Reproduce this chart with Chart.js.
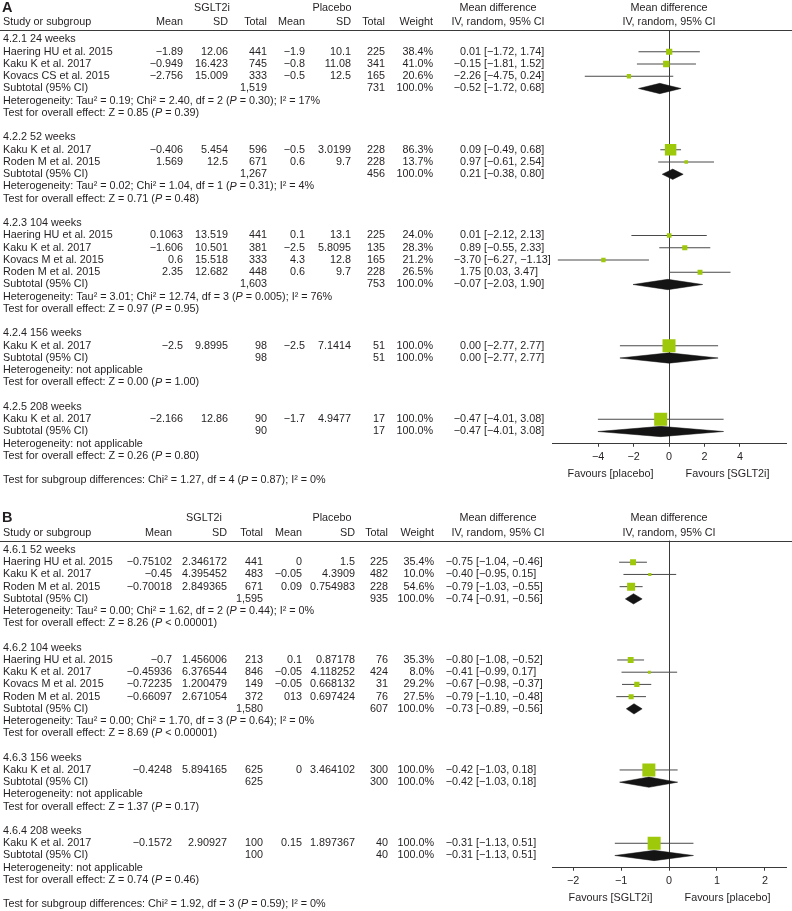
<!DOCTYPE html>
<html>
<head>
<meta charset="utf-8">
<script src="https://cdn.jsdelivr.net/npm/chart.js@4.4.1/dist/chart.umd.min.js"></script>
<style>
  body { margin: 0; background: #fff; }
  canvas { display: block; }
</style>
</head>
<body>
<canvas id="forestA" width="792" height="495"></canvas>
<canvas id="forestB" width="792" height="416"></canvas>
<script>
// ---------- panel A ----------
const groupsA = ['4.2.1 24 weeks', '4.2.2 52 weeks', '4.2.3 104 weeks', '4.2.4 156 weeks', '4.2.5 208 weeks'];
const groupSizeA = [3, 2, 4, 1, 1];
const studyA = ['Haering HU et al. 2015', 'Kaku K et al. 2017', 'Kovacs CS et al. 2015',
  'Kaku K et al. 2017', 'Roden M et al. 2015',
  'Haering HU et al. 2015', 'Kaku K et al. 2017', 'Kovacs M et al. 2015', 'Roden M et al. 2015',
  'Kaku K et al. 2017', 'Kaku K et al. 2017'];
const sgltMeanA = ['-1.89', '-0.949', '-2.756', '-0.406', '1.569', '0.1063', '-1.606', '0.6', '2.35', '-2.5', '-2.166'];
const sgltSdA = ['12.06', '16.423', '15.009', '5.454', '12.5', '13.519', '10.501', '15.518', '12.682', '9.8995', '12.86'];
const sgltTotalA = [441, 745, 333, 596, 671, 441, 381, 333, 448, 98, 90];
const plcMeanA = ['-1.9', '-0.8', '-0.5', '-0.5', '0.6', '0.1', '-2.5', '4.3', '0.6', '-2.5', '-1.7'];
const plcSdA = ['10.1', '11.08', '12.5', '3.0199', '9.7', '13.1', '5.8095', '12.8', '9.7', '7.1414', '4.9477'];
const plcTotalA = [225, 341, 165, 228, 228, 225, 135, 165, 228, 51, 17];
const weightA = [38.4, 41.0, 20.6, 86.3, 13.7, 24.0, 28.3, 21.2, 26.5, 100, 100];
const mdA = [0.01, -0.15, -2.26, 0.09, 0.97, 0.01, 0.89, -3.70, 1.75, 0.00, -0.47];
const loA = [-1.72, -1.81, -4.75, -0.49, -0.61, -2.12, -0.55, -6.27, 0.03, -2.77, -4.01];
const hiA = [1.74, 1.52, 0.24, 0.68, 2.54, 2.13, 2.33, -1.13, 3.47, 2.77, 3.08];
const subSgltA = ['1,519', '1,267', '1,603', '98', '90'];
const subPlcA = ['731', '456', '753', '51', '17'];
const subMdA = [-0.52, 0.21, -0.07, 0.00, -0.47];
const subLoA = [-1.72, -0.38, -2.03, -2.77, -4.01];
const subHiA = [0.68, 0.80, 1.90, 2.77, 3.08];
const hetA = [
  'Heterogeneity: Tau\u00b2 = 0.19; Chi\u00b2 = 2.40, df = 2 (|P| = 0.30); I\u00b2 = 17%',
  'Heterogeneity: Tau\u00b2 = 0.02; Chi\u00b2 = 1.04, df = 1 (|P| = 0.31); I\u00b2 = 4%',
  'Heterogeneity: Tau\u00b2 = 3.01; Chi\u00b2 = 12.74, df = 3 (|P| = 0.005); I\u00b2 = 76%',
  'Heterogeneity: not applicable',
  'Heterogeneity: not applicable'];
const effectA = [
  'Test for overall effect: Z = 0.85 (|P| = 0.39)',
  'Test for overall effect: Z = 0.71 (|P| = 0.48)',
  'Test for overall effect: Z = 0.97 (|P| = 0.95)',
  'Test for overall effect: Z = 0.00 (|P| = 1.00)',
  'Test for overall effect: Z = 0.26 (|P| = 0.80)'];
const subgroupTestA = 'Test for subgroup differences: Chi\u00b2 = 1.27, df = 4 (|P| = 0.87); I\u00b2 = 0%';
const ticksA = [-4, -2, 0, 2, 4];
const favoursA = ['Favours [placebo]', 'Favours [SGLT2i]'];

// ---------- panel B ----------
const groupsB = ['4.6.1 52 weeks', '4.6.2 104 weeks', '4.6.3 156 weeks', '4.6.4 208 weeks'];
const groupSizeB = [3, 4, 1, 1];
const studyB = ['Haering HU et al. 2015', 'Kaku K et al. 2017', 'Roden M et al. 2015',
  'Haering HU et al. 2015', 'Kaku K et al. 2017', 'Kovacs M et al. 2015', 'Roden M et al. 2015',
  'Kaku K et al. 2017', 'Kaku K et al. 2017'];
const sgltMeanB = ['-0.75102', '-0.45', '-0.70018', '-0.7', '-0.45936', '-0.72235', '-0.66097', '-0.4248', '-0.1572'];
const sgltSdB = ['2.346172', '4.395452', '2.849365', '1.456006', '6.376544', '1.200479', '2.671054', '5.894165', '2.90927'];
const sgltTotalB = [441, 483, 671, 213, 846, 149, 372, 625, 100];
const plcMeanB = ['0', '-0.05', '0.09', '0.1', '-0.05', '-0.05', '013', '0', '0.15'];
const plcSdB = ['1.5', '4.3909', '0.754983', '0.87178', '4.118252', '0.668132', '0.697424', '3.464102', '1.897367'];
const plcTotalB = [225, 482, 228, 76, 424, 31, 76, 300, 40];
const weightB = [35.4, 10.0, 54.6, 35.3, 8.0, 29.2, 27.5, 100, 100];
const mdB = [-0.75, -0.40, -0.79, -0.80, -0.41, -0.67, -0.79, -0.42, -0.31];
const loB = [-1.04, -0.95, -1.03, -1.08, -0.99, -0.98, -1.10, -1.03, -1.13];
const hiB = [-0.46, 0.15, -0.55, -0.52, 0.17, -0.37, -0.48, 0.18, 0.51];
const subSgltB = ['1,595', '1,580', '625', '100'];
const subPlcB = ['935', '607', '300', '40'];
const subMdB = [-0.74, -0.73, -0.42, -0.31];
const subLoB = [-0.91, -0.89, -1.03, -1.13];
const subHiB = [-0.56, -0.56, 0.18, 0.51];
const hetB = [
  'Heterogeneity: Tau\u00b2 = 0.00; Chi\u00b2 = 1.62, df = 2 (|P| = 0.44); I\u00b2 = 0%',
  'Heterogeneity: Tau\u00b2 = 0.00; Chi\u00b2 = 1.70, df = 3 (|P| = 0.64); I\u00b2 = 0%',
  'Heterogeneity: not applicable',
  'Heterogeneity: not applicable'];
const effectB = [
  'Test for overall effect: Z = 8.26 (|P| < 0.00001)',
  'Test for overall effect: Z = 8.69 (|P| < 0.00001)',
  'Test for overall effect: Z = 1.37 (|P| = 0.17)',
  'Test for overall effect: Z = 0.74 (|P| = 0.46)'];
const subgroupTestB = 'Test for subgroup differences: Chi\u00b2 = 1.92, df = 3 (|P| = 0.59); I\u00b2 = 0%';
const ticksB = [-2, -1, 0, 1, 2];
const favoursB = ['Favours [SGLT2i]', 'Favours [placebo]'];

// ---------- styling ----------
const FONT = '"Liberation Sans", Arial, sans-serif';
const FS = 10.8;
const TEXT = '#231f20';
const GREEN = 'rgb(158,200,10)';
const LINE = '#3a3a3a';
Chart.defaults.font.family = FONT;
Chart.defaults.font.size = FS;
Chart.defaults.color = TEXT;

const minus = s => String(s).replace(/-/g, '\u2212');

function layoutRows(groupSize) {
  let r = 0;
  const rows = { group: [], study: [], sub: [], het: [], eff: [] };
  groupSize.forEach(n => {
    rows.group.push(r++);
    for (let i = 0; i < n; i++) rows.study.push(r++);
    rows.sub.push(r++);
    rows.het.push(r++);
    rows.eff.push(r++);
    r++;
  });
  rows.subgroup = r;
  return rows;
}

// text with |...| parts in italic
function drawRich(ctx, text, x, y) {
  const parts = text.split('|');
  parts.forEach((p, i) => {
    ctx.font = (i % 2 ? 'italic ' : '') + FS + 'px ' + FONT;
    ctx.fillText(p, x, y);
    x += ctx.measureText(p).width;
  });
}

function forest(id, P) {
  const rows = layoutRows(P.groupSize);
  const yTop = -0.77;
  const yBot = rows.sub[rows.sub.length - 1] + 1;
  const padTop = P.row0 + yTop * P.rowH;
  const areaBottom = P.row0 + yBot * P.rowH;
  const xAxisH = P.height - areaBottom;

  const datasets = [];
  datasets.push({
    data: P.md.map((m, i) => ({ x: m, y: rows.study[i] })),
    showLine: false,
    pointStyle: 'rect',
    pointRadius: P.weight.map(w => (2 + 11 * w / 100) / Math.SQRT2),
    pointBackgroundColor: GREEN,
    pointBorderWidth: 0,
    order: 0
  });
  P.lo.forEach((lo, i) => {
    datasets.push({
      data: [{ x: lo, y: rows.study[i] }, { x: P.hi[i], y: rows.study[i] }],
      borderColor: '#4a4a4a', borderWidth: 1, pointRadius: 0, order: 2
    });
  });
  P.subMd.forEach((m, i) => {
    const r = rows.sub[i];
    datasets.push({
      data: [{ x: P.subLo[i], y: r }, { x: m, y: r - 0.42 }, { x: P.subHi[i], y: r },
             { x: m, y: r + 0.42 }, { x: P.subLo[i], y: r }],
      fill: 'shape', backgroundColor: '#141414', borderColor: '#141414',
      borderWidth: 0.5, pointRadius: 0, tension: 0, order: 1
    });
  });

  const tablePlugin = {
    id: 'table_' + id,
    afterDraw(chart) {
      const ctx = chart.ctx;
      const ys = chart.scales.y;
      const xs = chart.scales.x;
      const area = chart.chartArea;
      const Y = r => ys.getPixelForValue(r);
      const C = P.cols;
      ctx.save();
      ctx.fillStyle = TEXT;
      ctx.textBaseline = 'middle';

      // header line
      const hy = Math.round(area.top) + 0.5;
      ctx.strokeStyle = LINE;
      ctx.lineWidth = 1;
      ctx.beginPath();
      ctx.moveTo(0, hy);
      ctx.lineTo(792, hy);
      ctx.stroke();

      // panel letter + headers
      const h1 = Y(-2.58), h2 = Y(-1.42);
      ctx.font = 'bold 14.5px ' + FONT;
      ctx.textAlign = 'left';
      ctx.fillText(P.letter, 2, h1);
      ctx.font = FS + 'px ' + FONT;
      ctx.textAlign = 'center';
      ctx.fillText('SGLT2i', C.sgltHead, h1);
      ctx.fillText('Placebo', C.plcHead, h1);
      ctx.fillText('Mean difference', C.mdHead, h1);
      ctx.fillText('IV, random, 95% CI', C.mdHead, h2);
      const pc = xs.getPixelForValue(0);
      ctx.fillText('Mean difference', pc, h1);
      ctx.fillText('IV, random, 95% CI', pc, h2);
      ctx.textAlign = 'left';
      ctx.fillText('Study or subgroup', 3, h2);
      ctx.textAlign = 'right';
      [['Mean', C.mean1], ['SD', C.sd1], ['Total', C.tot1], ['Mean', C.mean2],
       ['SD', C.sd2], ['Total', C.tot2], ['Weight', C.weight]].forEach(([t, x]) => ctx.fillText(t, x, h2));

      const drawEstimate = (m, lo, hi, y) => {
        ctx.textAlign = 'right';
        ctx.fillText(minus(m.toFixed(2)), C.est, y);
        ctx.textAlign = 'left';
        ctx.fillText('[' + minus(lo.toFixed(2)) + ', ' + minus(hi.toFixed(2)) + ']', C.est + 3, y);
      };

      // study rows
      P.study.forEach((s, i) => {
        const y = Y(rows.study[i]);
        ctx.textAlign = 'left';
        ctx.fillText(s, 3, y);
        ctx.textAlign = 'right';
        ctx.fillText(minus(P.sgltMean[i]), C.mean1, y);
        ctx.fillText(P.sgltSd[i], C.sd1, y);
        ctx.fillText(String(P.sgltTotal[i]), C.tot1, y);
        ctx.fillText(minus(P.plcMean[i]), C.mean2, y);
        ctx.fillText(P.plcSd[i], C.sd2, y);
        ctx.fillText(String(P.plcTotal[i]), C.tot2, y);
        ctx.fillText(P.weight[i].toFixed(1) + '%', C.weight, y);
        drawEstimate(P.md[i], P.lo[i], P.hi[i], y);
      });

      // group rows
      P.groups.forEach((g, i) => {
        ctx.textAlign = 'left';
        ctx.fillText(g, 3, Y(rows.group[i]));
        const ys2 = Y(rows.sub[i]);
        ctx.fillText('Subtotal (95% CI)', 3, ys2);
        ctx.textAlign = 'right';
        ctx.fillText(P.subSglt[i], C.tot1, ys2);
        ctx.fillText(P.subPlc[i], C.tot2, ys2);
        ctx.fillText('100.0%', C.weight, ys2);
        drawEstimate(P.subMd[i], P.subLo[i], P.subHi[i], ys2);
        ctx.textAlign = 'left';
        drawRich(ctx, P.het[i], 3, Y(rows.het[i]));
        drawRich(ctx, P.effect[i], 3, Y(rows.eff[i]));
        ctx.font = FS + 'px ' + FONT;
      });
      ctx.textAlign = 'left';
      drawRich(ctx, P.subgroupTest, 3, Y(rows.subgroup));

      // favours labels
      ctx.font = FS + 'px ' + FONT;
      ctx.textAlign = 'center';
      const z = xs.getPixelForValue(0);
      const fy = area.bottom + 30;
      ctx.fillText(P.favours[0], (area.left + z) / 2, fy);
      ctx.fillText(P.favours[1], (z + area.right) / 2, fy);
      ctx.restore();
    }
  };

  return new Chart(document.getElementById(id), {
    type: 'line',
    data: { datasets },
    options: {
      responsive: false,
      animation: false,
      events: [],
      layout: { autoPadding: false, padding: { left: 552, right: 6, top: padTop, bottom: 0 } },
      plugins: { legend: { display: false }, tooltip: { enabled: false } },
      scales: {
        x: {
          type: 'linear',
          min: P.xMin,
          max: P.xMax,
          afterBuildTicks: s => { s.ticks = P.ticks.map(v => ({ value: v })); },
          afterFit: s => { s.height = xAxisH; },
          grid: {
            color: c => (c.tick && c.tick.value === 0 ? LINE : 'rgba(0,0,0,0)'),
            tickColor: LINE,
            tickLength: 3,
            drawTicks: true
          },
          border: { display: true, color: LINE, width: 1 },
          ticks: { padding: 4, color: TEXT, autoSkip: false, maxRotation: 0, callback: v => minus(v) }
        },
        y: { type: 'linear', display: false, reverse: true, min: yTop, max: yBot }
      }
    },
    plugins: [tablePlugin]
  });
}

forest('forestA', {
  letter: 'A', height: 495, row0: 39.5, rowH: 12.25, xMin: -6.6, xMax: 6.6,
  groups: groupsA, groupSize: groupSizeA, study: studyA,
  sgltMean: sgltMeanA, sgltSd: sgltSdA, sgltTotal: sgltTotalA,
  plcMean: plcMeanA, plcSd: plcSdA, plcTotal: plcTotalA,
  weight: weightA, md: mdA, lo: loA, hi: hiA,
  subSglt: subSgltA, subPlc: subPlcA, subMd: subMdA, subLo: subLoA, subHi: subHiA,
  het: hetA, effect: effectA, subgroupTest: subgroupTestA, ticks: ticksA, favours: favoursA,
  cols: { mean1: 183, sd1: 228, tot1: 267, mean2: 305, sd2: 351, tot2: 385, weight: 433, est: 481,
          sgltHead: 212, plcHead: 332, mdHead: 498 }
});

forest('forestB', {
  letter: 'B', height: 416, row0: 55, rowH: 12.22, xMin: -2.44, xMax: 2.44,
  groups: groupsB, groupSize: groupSizeB, study: studyB,
  sgltMean: sgltMeanB, sgltSd: sgltSdB, sgltTotal: sgltTotalB,
  plcMean: plcMeanB, plcSd: plcSdB, plcTotal: plcTotalB,
  weight: weightB, md: mdB, lo: loB, hi: hiB,
  subSglt: subSgltB, subPlc: subPlcB, subMd: subMdB, subLo: subLoB, subHi: subHiB,
  het: hetB, effect: effectB, subgroupTest: subgroupTestB, ticks: ticksB, favours: favoursB,
  cols: { mean1: 172, sd1: 227, tot1: 263, mean2: 302, sd2: 355, tot2: 388, weight: 434, est: 473,
          sgltHead: 204, plcHead: 332, mdHead: 498 }
});
</script>
</body>
</html>
